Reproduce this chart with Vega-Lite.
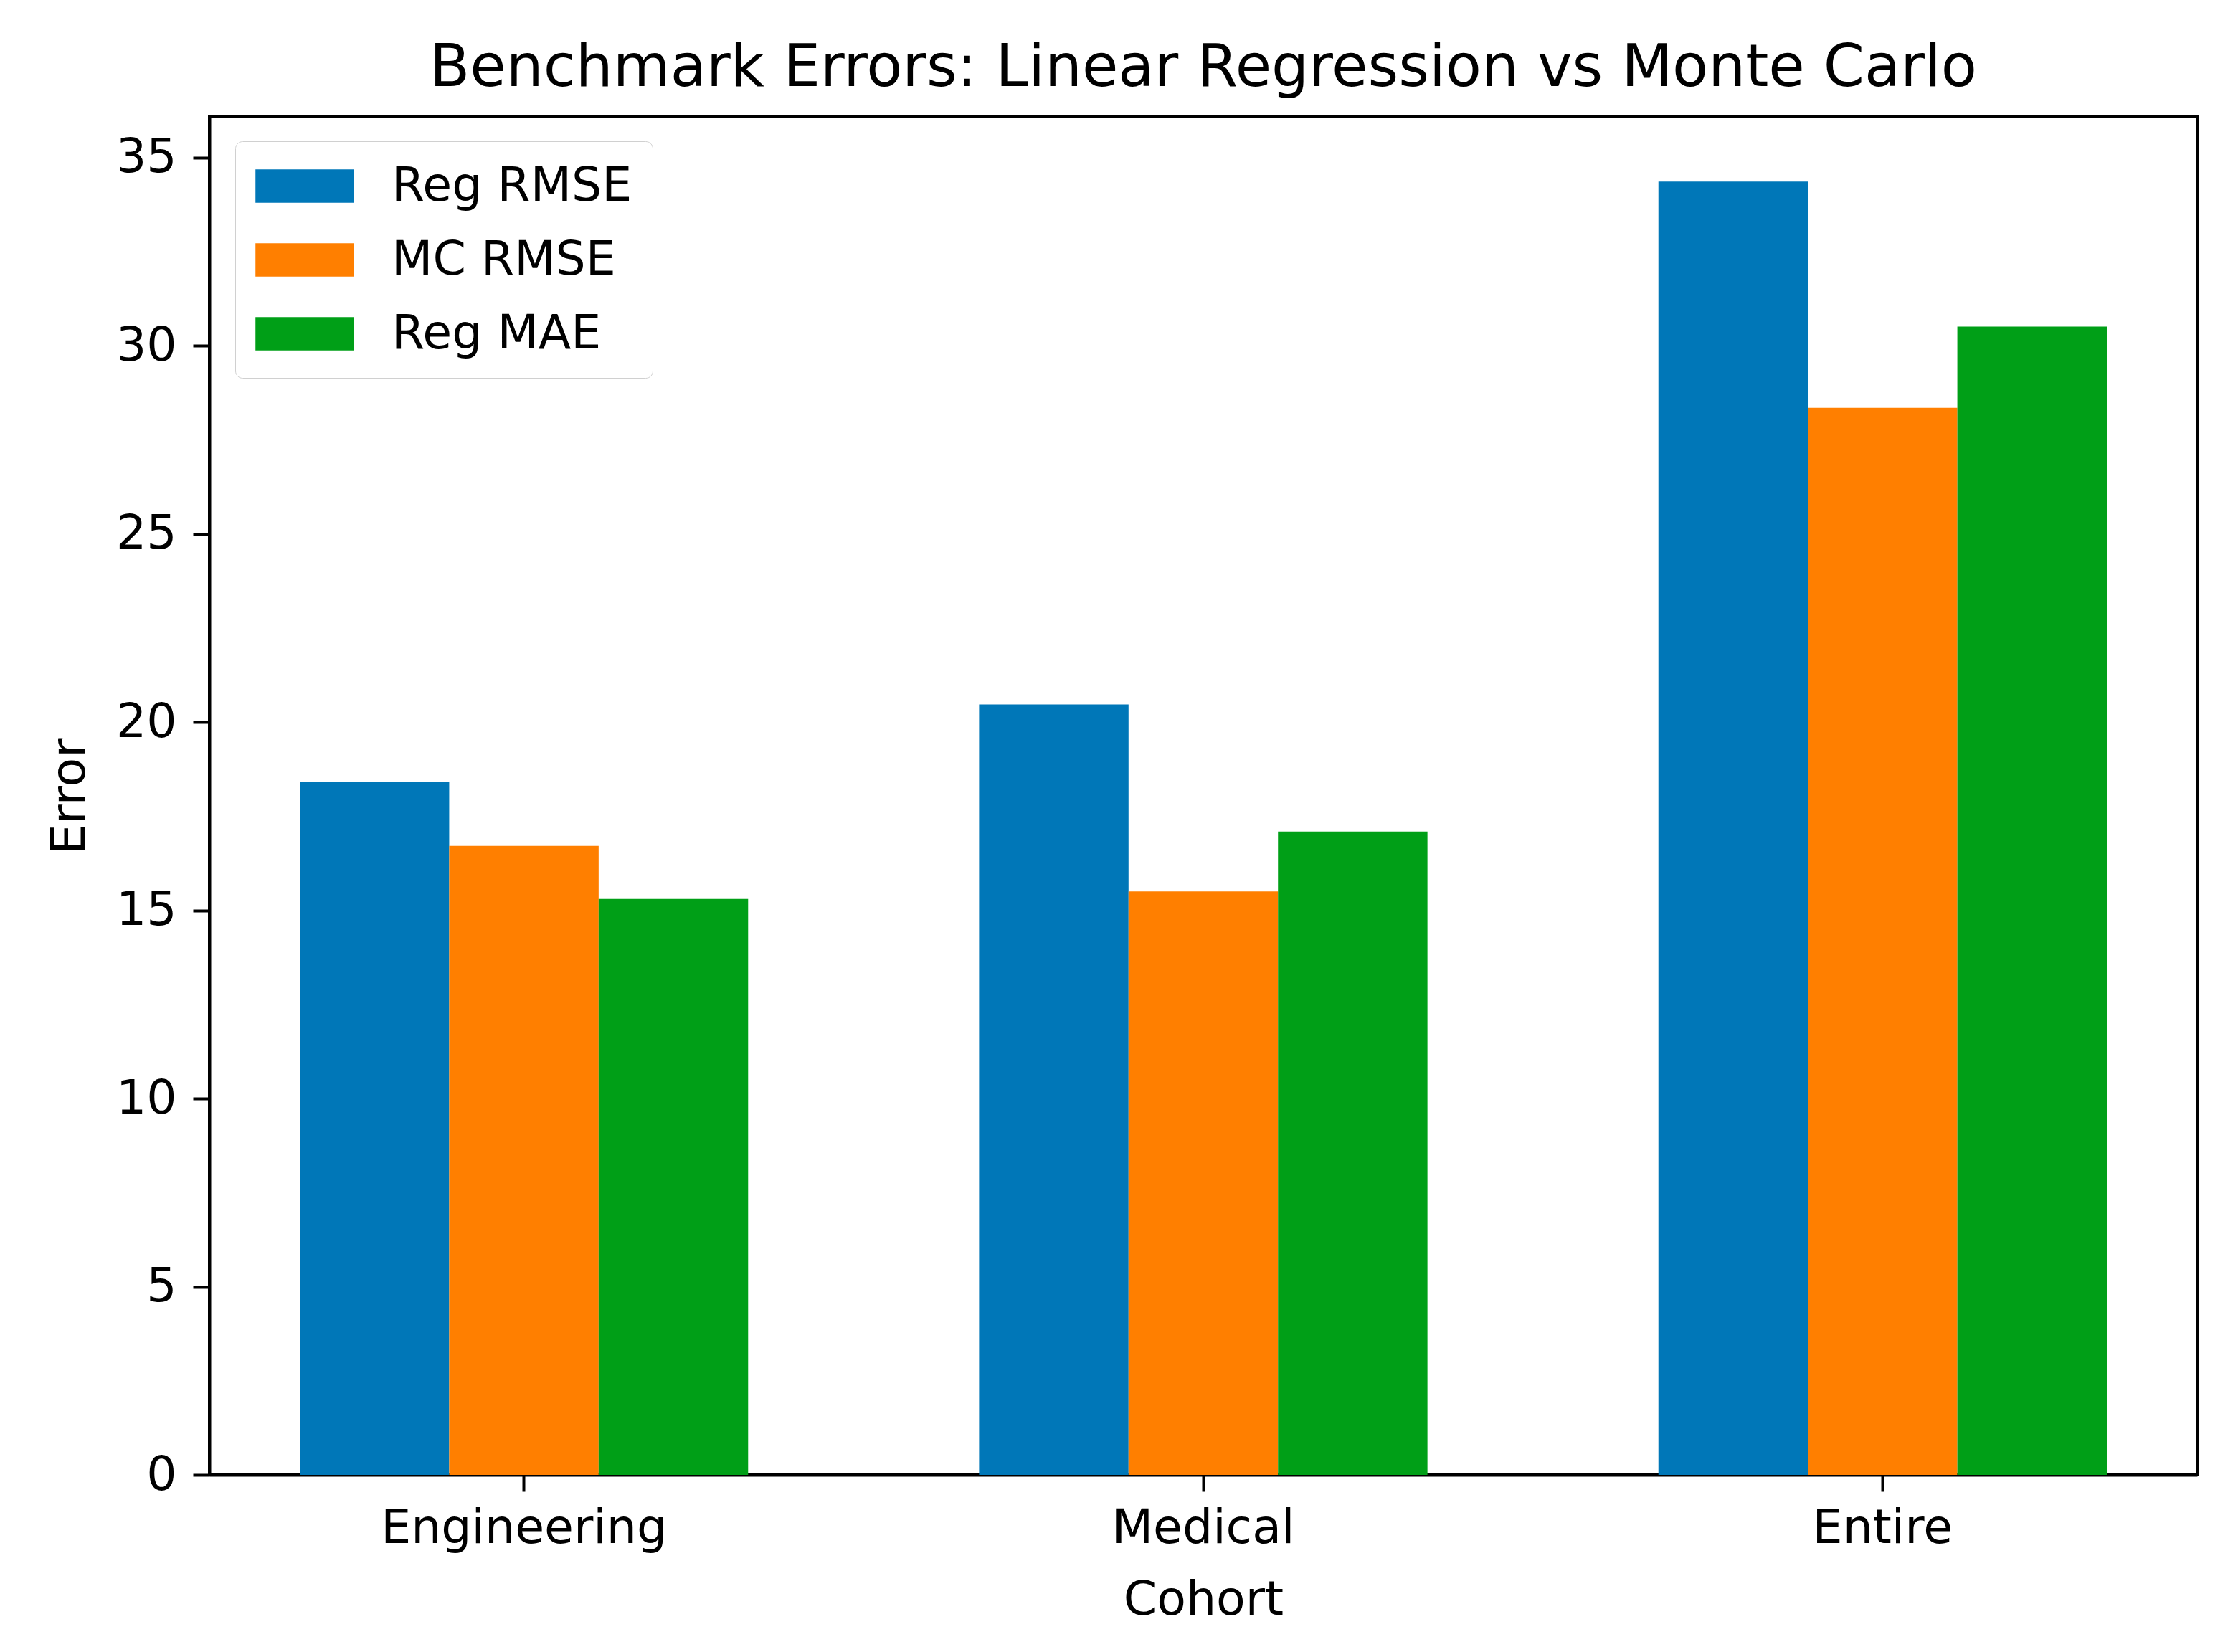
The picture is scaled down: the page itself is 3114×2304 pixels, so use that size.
{
  "$schema": "https://vega.github.io/schema/vega-lite/v6.json",
  "width": 2772,
  "height": 1894,
  "autosize": {"type": "none"},
  "padding": {"left": 292, "top": 163, "right": 50, "bottom": 247},
  "background": "white",
  "title": {
    "text": "Benchmark Errors: Linear Regression vs Monte Carlo",
    "font": "DejaVu Sans",
    "fontSize": 82,
    "fontWeight": "normal",
    "color": "black",
    "anchor": "middle",
    "offset": 26,
    "limit": 0
  },
  "data": {
    "values": [
      {"cohort": "Engineering", "metric": "Reg RMSE", "value": 18.41},
      {"cohort": "Engineering", "metric": "MC RMSE", "value": 16.71},
      {"cohort": "Engineering", "metric": "Reg MAE", "value": 15.30},
      {"cohort": "Medical", "metric": "Reg RMSE", "value": 20.47},
      {"cohort": "Medical", "metric": "MC RMSE", "value": 15.50},
      {"cohort": "Medical", "metric": "Reg MAE", "value": 17.09},
      {"cohort": "Entire", "metric": "Reg RMSE", "value": 34.36},
      {"cohort": "Entire", "metric": "MC RMSE", "value": 28.35},
      {"cohort": "Entire", "metric": "Reg MAE", "value": 30.51}
    ]
  },
  "mark": {"type": "bar"},
  "encoding": {
    "x": {
      "field": "cohort",
      "type": "nominal",
      "sort": ["Engineering", "Medical", "Entire"],
      "scale": {"paddingInner": 0.34, "paddingOuter": 0.133},
      "axis": {
        "title": "Cohort",
        "labelAngle": 0,
        "labelBaseline": "top",
        "labelPadding": 18,
        "titlePadding": 34
      }
    },
    "xOffset": {
      "field": "metric",
      "type": "nominal",
      "sort": ["Reg RMSE", "MC RMSE", "Reg MAE"],
      "scale": {"paddingInner": 0, "paddingOuter": 0}
    },
    "y": {
      "field": "value",
      "type": "quantitative",
      "scale": {"domain": [0, 36.08], "nice": false, "zero": true},
      "axis": {
        "title": "Error",
        "values": [0, 5, 10, 15, 20, 25, 30, 35],
        "titlePadding": 30
      }
    },
    "color": {
      "field": "metric",
      "type": "nominal",
      "sort": ["Reg RMSE", "MC RMSE", "Reg MAE"],
      "scale": {
        "domain": ["Reg RMSE", "MC RMSE", "Reg MAE"],
        "range": ["#0077b8", "#ff7f00", "#009f17"]
      },
      "legend": {
        "title": null,
        "orient": "none",
        "legendX": 36,
        "legendY": 34,
        "symbolType": "M-1,-0.68H3V0.68H-1Z",
        "symbolSize": 4692,
        "symbolStrokeWidth": 0,
        "labelFont": "DejaVu Sans",
        "labelFontSize": 66.5,
        "labelColor": "black",
        "labelLimit": 0,
        "labelOffset": 121,
        "rowPadding": 35,
        "padding": 28,
        "strokeColor": "#d0d0d0",
        "fillColor": "white",
        "cornerRadius": 10
      }
    }
  },
  "config": {
    "view": {"stroke": "black", "strokeWidth": 4},
    "axis": {
      "grid": false,
      "domainColor": "black",
      "domainWidth": 4,
      "tickColor": "black",
      "tickWidth": 4,
      "tickSize": 23,
      "labelPadding": 23,
      "labelLimit": 0,
      "labelFont": "DejaVu Sans",
      "labelFontSize": 66.5,
      "labelColor": "black",
      "titleFont": "DejaVu Sans",
      "titleFontSize": 66.5,
      "titleFontWeight": "normal",
      "titleColor": "black"
    }
  }
}
